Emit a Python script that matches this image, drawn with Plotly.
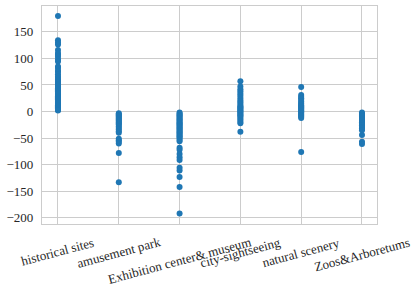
import plotly.graph_objects as go

categories = ["historical sites", "amusement park", "Exhibition center& museum",
              "city-sightseeing", "natural scenery", "Zoos&Arboretums"]

historical_sites = [180, 134, 130, 126, 116, 110, 107, 103, 98, 94, 85, 82, 77, 75, 70, 66,
                    63, 60, 58, 56, 54, 52, 50, 48, 46, 44, 42, 40, 38, 36, 35, 34, 32, 30,
                    29, 28, 27, 26, 25, 24, 23, 22, 21, 20, 19, 18, 17, 16, 15, 14, 13, 12,
                    11, 10, 9, 8, 7, 6, 5, 4, 3, 2]
amusement_park = [-3, -5, -7, -9, -11, -13, -15, -17, -19, -21, -23, -25, -28, -31, -34, -37,
                  -40, -51, -54, -57, -60, -78, -133]
exhibition_museum = [-2, -4, -6, -8, -10, -12, -14, -16, -18, -20, -22, -24, -26, -28, -30,
                     -32, -34, -36, -38, -40, -42, -44, -46, -48, -50, -53, -56, -68, -72,
                     -80, -86, -91, -106, -111, -123, -142, -192]
city_sightseeing = [57, 47, 42, 38, 34, 30, 26, 22, 19, 16, 13, 10, 8, 6, 4, 2, 0, -2, -4,
                    -6, -8, -10, -13, -16, -19, -22, -38]
natural_scenery = [46, 31, 28, 25, 22, 19, 16, 14, 12, 10, 8, 6, 4, 2, 0, -2, -4, -6, -8,
                   -10, -12, -76]
zoos_arboretums = [-2, -4, -6, -8, -10, -12, -14, -16, -18, -20, -23, -26, -29, -32, -35,
                   -44, -57, -61]

y_ticks = [-200, -150, -100, -50, 0, 50, 100, 150]

series = [historical_sites, amusement_park, exhibition_museum,
          city_sightseeing, natural_scenery, zoos_arboretums]

xs, ys = [], []
for cat, vals in zip(categories, series):
    xs += [cat] * len(vals)
    ys += vals

FONT = "Times New Roman, Liberation Serif, serif"
GRID = "#cccccc"

fig = go.Figure()
fig.add_trace(go.Scatter(
    x=xs, y=ys, mode="markers",
    marker=dict(color="#1f77b4", size=6, line=dict(width=0)),
    showlegend=False, cliponaxis=False,
))

for cat in categories:
    fig.add_annotation(
        x=cat, xref="x", y=0, yref="paper",
        text=cat, showarrow=False, textangle=-15,
        xanchor="center", yanchor="top", yshift=-8,
        font=dict(family=FONT, size=13, color="#262626"),
    )

fig.update_layout(
    width=418, height=289,
    margin=dict(l=42, r=41, t=6, b=65, autoexpand=False),
    paper_bgcolor="white", plot_bgcolor="white",
    font=dict(family=FONT, size=13, color="#262626"),
)
fig.update_xaxes(
    type="category", categoryorder="array", categoryarray=categories,
    range=[-0.263, 5.247], showticklabels=False, automargin=False,
    showgrid=True, gridcolor=GRID, gridwidth=1,
    showline=True, linecolor=GRID, linewidth=1.2, mirror=True,
    zeroline=False, ticks="",
)
fig.update_yaxes(
    range=[-211.7, 198.7], tickvals=y_ticks, automargin=False,
    showgrid=True, gridcolor=GRID, gridwidth=1,
    showline=True, linecolor=GRID, linewidth=1.2, mirror=True,
    zeroline=False, ticks="", ticklabelstandoff=5,
    tickfont=dict(family=FONT, size=13, color="#262626"),
)

fig.write_html("out.html", config={"displayModeBar": False},
               post_script="document.body.style.margin='0';")
